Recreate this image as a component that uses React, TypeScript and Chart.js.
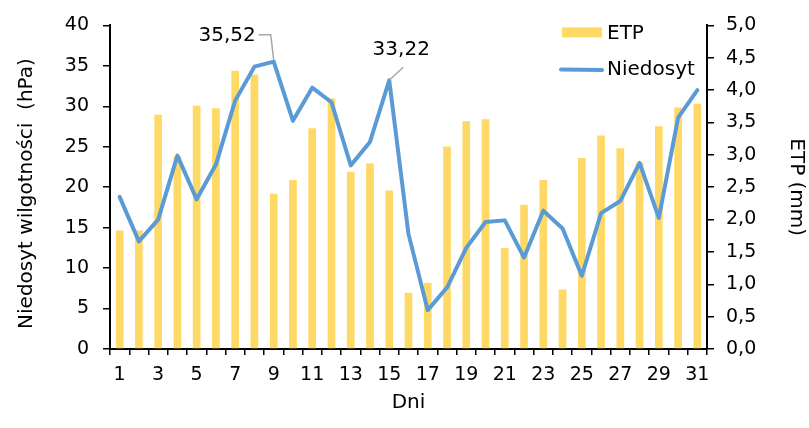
import React, { useEffect, useRef } from "react";
import { Chart, registerables } from "chart.js";

Chart.register(...registerables);

const days: string[] = Array.from({ length: 31 }, (_, i) => String(i + 1));

const etp: number[] = [
  1.83, 1.83, 3.62, 2.98, 3.76, 3.72, 4.3, 4.24, 2.4, 2.61, 3.41, 3.87, 2.74, 2.87, 2.45, 0.87,
  1.02, 3.13, 3.52, 3.55, 1.56, 2.23, 2.61, 0.92, 2.95, 3.3, 3.1, 2.88, 3.44, 3.73, 3.79,
];

const niedosyt: number[] = [
  18.8, 13.3, 16.0, 23.9, 18.5, 22.8, 30.7, 34.9, 35.52, 28.2, 32.3, 30.5, 22.7, 25.6, 33.22,
  14.2, 4.8, 7.6, 12.5, 15.7, 15.9, 11.3, 17.1, 14.9, 9.05, 16.8, 18.3, 23.0, 16.2, 28.6, 32.0,
];

const annotated: { index: number; text: string }[] = [
  { index: 8, text: "35,52" },
  { index: 14, text: "33,22" },
];

const FONT = "'DejaVu Sans', 'Liberation Sans', Arial, sans-serif";
const BAR_COLOR = "#FFD966";
const LINE_COLOR = "#5B9BD5";

const annotationPlugin = {
  id: "labelsPlugin",
  afterDatasetsDraw(chart: any) {
    const ctx = chart.ctx;
    const meta = chart.getDatasetMeta(1);
    ctx.save();
    ctx.font = `20px ${FONT}`;
    ctx.fillStyle = "#000";
    ctx.strokeStyle = "#A6A6A6";
    ctx.lineWidth = 1.5;
    annotated.forEach((a, k) => {
      const pt = meta.data[a.index];
      if (!pt) return;
      const x = pt.x;
      const y = pt.y;
      if (k === 0) {
        ctx.beginPath();
        ctx.moveTo(x - 15, y - 27);
        ctx.lineTo(x - 3, y - 27);
        ctx.lineTo(x, y - 2);
        ctx.stroke();
        ctx.textAlign = "right";
        ctx.textBaseline = "middle";
        ctx.fillText(a.text, x - 18, y - 26);
      } else {
        ctx.beginPath();
        ctx.moveTo(x, y);
        ctx.lineTo(x + 14, y - 13);
        ctx.stroke();
        ctx.textAlign = "center";
        ctx.textBaseline = "middle";
        ctx.fillText(a.text, x + 12, y - 30);
      }
    });
    ctx.restore();
  },
};

const legendPlugin = {
  id: "customLegend",
  afterDraw(chart: any) {
    const ctx = chart.ctx;
    const r = chart.chartArea.right;
    const t = chart.chartArea.top;
    ctx.save();
    ctx.fillStyle = BAR_COLOR;
    ctx.fillRect(r - 145, t + 2, 40, 10);
    ctx.strokeStyle = LINE_COLOR;
    ctx.lineWidth = 4;
    ctx.lineCap = "round";
    ctx.beginPath();
    ctx.moveTo(r - 146, t + 44);
    ctx.lineTo(r - 105, t + 44.5);
    ctx.stroke();
    ctx.fillStyle = "#000";
    ctx.font = `20px ${FONT}`;
    ctx.textAlign = "left";
    ctx.textBaseline = "middle";
    ctx.fillText("ETP", r - 100, t + 8);
    ctx.fillText("Niedosyt", r - 100, t + 44);
    ctx.restore();
  },
};

export default function App() {
  const ref = useRef<HTMLCanvasElement | null>(null);

  useEffect(() => {
    if (!ref.current) return;
    const chart = new Chart(ref.current, {
      type: "bar",
      data: {
        labels: days,
        datasets: [
          {
            type: "bar",
            label: "ETP",
            data: etp,
            backgroundColor: BAR_COLOR,
            yAxisID: "y1",
            barPercentage: 0.4,
            categoryPercentage: 1,
            order: 2,
          },
          {
            type: "line",
            label: "Niedosyt",
            data: niedosyt,
            borderColor: LINE_COLOR,
            backgroundColor: LINE_COLOR,
            borderWidth: 4,
            pointRadius: 0,
            tension: 0,
            borderJoinStyle: "round",
            borderCapStyle: "round",
            yAxisID: "y",
            order: 1,
          } as any,
        ],
      },
      options: {
        animation: false,
        responsive: false,
        devicePixelRatio: 1,
        layout: { padding: { top: 22, right: 0, left: 0, bottom: 0 } },
        plugins: {
          legend: { display: false },
          tooltip: { enabled: false },
        },
        scales: {
          x: {
            offset: true,
            grid: {
              display: true,
              offset: true,
              drawOnChartArea: false,
              drawTicks: true,
              tickLength: 6,
              color: "#000",
              lineWidth: 1.5,
            },
            border: { display: true, color: "#000", width: 2 },
            ticks: {
              autoSkip: false,
              maxRotation: 0,
              minRotation: 0,
              padding: 9,
              color: "#000",
              font: { family: FONT, size: 19 },
              callback: (_v: any, i: number) => (i % 2 === 0 ? days[i] : ""),
            },
            title: {
              display: true,
              text: "Dni",
              color: "#000",
              font: { family: FONT, size: 20 },
              padding: { top: 0, bottom: 13 },
            },
            afterFit: (s: any) => {
              s.height = 79;
            },
          },
          y: {
            position: "left",
            min: 0,
            max: 40,
            grid: {
              display: true,
              drawOnChartArea: false,
              drawTicks: true,
              tickLength: 7,
              color: "#000",
              lineWidth: 1.5,
            },
            border: { display: true, color: "#000", width: 2 },
            ticks: {
              stepSize: 5,
              padding: 14,
              color: "#000",
              font: { family: FONT, size: 19 },
            },
            title: {
              display: true,
              text: "Niedosyt wilgotności  (hPa)  ",
              color: "#000",
              font: { family: FONT, size: 20 },
              padding: { top: 15, bottom: 0 },
            },
            afterFit: (s: any) => {
              s.width = 110;
            },
          },
          y1: {
            position: "right",
            min: 0,
            max: 5,
            grid: {
              display: true,
              drawOnChartArea: false,
              drawTicks: true,
              tickLength: 7,
              color: "#000",
              lineWidth: 1.5,
            },
            border: { display: true, color: "#000", width: 2 },
            ticks: {
              stepSize: 0.5,
              padding: 12,
              color: "#000",
              font: { family: FONT, size: 19 },
              callback: (v: any) => Number(v).toFixed(1).replace(".", ","),
            },
            title: {
              display: true,
              text: "ETP (mm)",
              color: "#000",
              font: { family: FONT, size: 20 },
              padding: { top: 1, bottom: 0 },
            },
            afterFit: (s: any) => {
              s.width = 102;
            },
          },
        },
      },
      plugins: [annotationPlugin, legendPlugin],
    });
    return () => chart.destroy();
  }, []);

  return (
    <div style={{ position: "absolute", left: 0, top: 0, width: 809, height: 428, background: "#fff" }}>
      <canvas ref={ref} width={809} height={428} style={{ display: "block" }} />
    </div>
  );
}
